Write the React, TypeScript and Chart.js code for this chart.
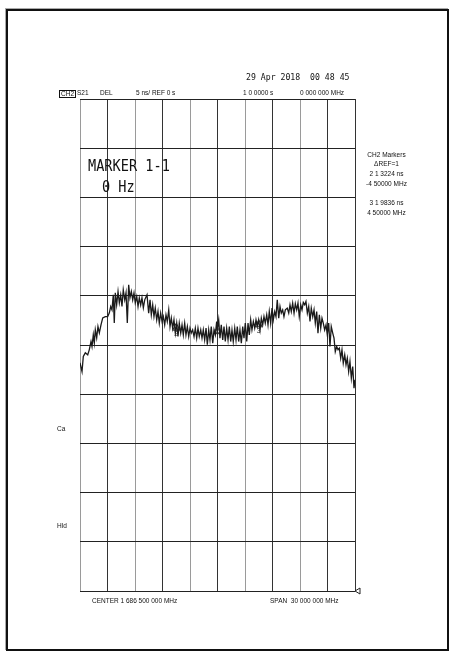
import React, { useEffect, useRef } from "react";
import { Chart, registerables } from "chart.js";

Chart.register(...registerables);

// Frequency (MHz) of each trace point
const freqMHz = [
  1671.5, 1671.72, 1671.86, 1672.08, 1672.34, 1672.51, 1672.7, 1672.81, 1672.95, 1673.06,
  1673.17, 1673.32, 1673.46, 1673.61, 1673.79, 1673.98, 1674.26, 1674.52, 1674.7, 1674.85,
  1674.99, 1675.13, 1675.24, 1675.35, 1675.5, 1675.65, 1675.79, 1675.94, 1676.08, 1676.22,
  1676.38, 1676.52, 1676.66, 1676.81, 1676.95, 1677.1, 1677.25, 1677.39, 1677.53, 1677.69,
  1677.83, 1677.97, 1678.12, 1678.26, 1678.41, 1678.56, 1678.81, 1678.99, 1679.14, 1679.28,
  1679.43, 1679.57, 1679.71, 1679.87, 1680.01, 1680.15, 1680.3, 1680.45, 1680.59, 1680.74,
  1680.88, 1681.02, 1681.18, 1681.32, 1681.46, 1681.61, 1681.75, 1681.9, 1682.05, 1682.19,
  1682.33, 1682.49, 1682.63, 1682.77, 1682.92, 1683.06, 1683.21, 1683.36, 1683.5, 1683.64,
  1683.79, 1683.94, 1684.08, 1684.23, 1684.37, 1684.51, 1684.67, 1684.81, 1684.95, 1685.1,
  1685.25, 1685.39, 1685.54, 1685.68, 1685.82, 1685.98, 1686.12, 1686.26, 1686.41, 1686.48,
  1686.63, 1686.77, 1686.91, 1687.07, 1687.21, 1687.35, 1687.5, 1687.65, 1687.79, 1687.94,
  1688.08, 1688.22, 1688.38, 1688.52, 1688.66, 1688.81, 1688.95, 1689.1, 1689.25, 1689.39,
  1689.53, 1689.69, 1689.83, 1689.97, 1690.12, 1690.26, 1690.41, 1690.56, 1690.7, 1690.84,
  1690.99, 1691.14, 1691.28, 1691.43, 1691.57, 1691.71, 1691.87, 1692.01, 1692.15, 1692.3,
  1692.45, 1692.59, 1692.74, 1692.88, 1693.02, 1693.18, 1693.32, 1693.46, 1693.61, 1693.75,
  1693.9, 1694.11, 1694.27, 1694.41, 1694.55, 1694.7, 1694.85, 1694.99, 1695.14, 1695.28,
  1695.42, 1695.58, 1695.72, 1695.86, 1696.01, 1696.15, 1696.3, 1696.45, 1696.59, 1696.73,
  1696.89, 1697.03, 1697.17, 1697.32, 1697.46, 1697.61, 1697.76, 1697.9, 1698.04, 1698.19,
  1698.34, 1698.48, 1698.63, 1698.77, 1698.91, 1699.07, 1699.21, 1699.35, 1699.5, 1699.65,
  1699.79, 1699.94, 1700.08, 1700.22, 1700.38, 1700.52, 1700.66, 1700.81, 1700.95, 1701.1,
  1701.25, 1701.39, 1701.5,
];

// Group delay (ns) of each trace point
const delayNs = [
  23.19, 22.3, 23.83, 24.2, 24.0, 24.51, 25.35, 24.84, 26.03, 25.22,
  26.54, 25.73, 26.88, 26.24, 27.05, 27.76, 27.89, 27.89, 28.27, 28.91,
  28.57, 30.1, 27.25, 30.3, 29.08, 30.44, 29.29, 30.1, 28.91, 30.61,
  29.59, 30.3, 27.25, 31.12, 29.8, 30.44, 29.59, 30.3, 29.29, 29.93,
  28.91, 29.8, 29.08, 29.8, 28.78, 29.59, 30.1, 28.24, 29.59, 28.07,
  29.08, 27.89, 28.75, 27.56, 28.4, 27.22, 28.24, 27.39, 27.89, 27.05,
  28.07, 27.39, 28.57, 26.88, 27.73, 26.71, 27.56, 26.21, 27.22, 25.86,
  27.22, 26.21, 27.05, 26.03, 27.22, 26.03, 26.88, 25.86, 26.71, 26.21,
  26.54, 25.86, 26.71, 25.7, 26.71, 25.86, 26.54, 25.7, 26.54, 25.52,
  26.71, 25.02, 26.54, 25.52, 26.88, 25.19, 26.54, 26.03, 27.39, 26.54,
  27.56, 25.7, 27.05, 25.52, 26.88, 25.35, 26.71, 25.52, 26.88, 25.35,
  26.54, 25.35, 26.71, 25.52, 26.88, 25.35, 26.54, 25.19, 26.88, 25.7,
  27.22, 25.35, 27.22, 26.03, 27.56, 26.54, 27.39, 26.71, 27.56, 26.88,
  27.56, 26.54, 27.73, 27.05, 27.89, 27.22, 28.07, 27.05, 28.4, 27.22,
  28.75, 27.56, 28.4, 27.89, 29.59, 27.73, 28.91, 28.24, 28.57, 27.89,
  28.57, 28.75, 28.24, 29.08, 28.4, 29.26, 28.24, 29.19, 28.57, 29.26,
  27.89, 29.08, 28.57, 29.32, 29.08, 29.42, 28.24, 28.91, 27.39, 28.75,
  27.89, 28.57, 27.22, 28.4, 26.21, 28.07, 26.71, 27.73, 27.22, 26.54,
  27.05, 26.03, 27.22, 24.84, 26.88, 26.21, 25.7, 24.33, 24.84, 24.51,
  24.68, 23.66, 24.51, 23.15, 24.0, 22.98, 23.66, 22.3, 23.32, 21.63,
  22.81, 20.61, 21.46,
];

// Markers
const markerIds = ["1", "2", "3"];
const markerFreqMHz = [1686.5, 1682.0, 1691.0];

// Axes (center 1686.5 MHz, span 30 MHz, 5 ns/div, ref 0 s at bottom)
const freqStart = 1671.5;
const freqStop = 1701.5;
const xDivisions = 10;
const delayMin = 0;
const delayMax = 50;
const nsPerDiv = 5;
const refValue = 0;

const headerTexts = ["S21", "DEL", "5 ns/ REF 0 s", "1 0 0000 s", "0 000 000 MHz"];
const dateText = "29 Apr 2018  00 48 45";
const markerBig = ["MARKER 1-1", "0 Hz"];
const markerPanel = ["CH2 Markers", "\u0394REF=1", "2 1 3224 ns", "-4 50000 MHz", "3 1 9836 ns", "4 50000 MHz"];
const footerTexts = ["CENTER 1 686 500 000 MHz", "SPAN  30 000 000 MHz"];

const markerPlugin = {
  id: "vnaMarkers",
  afterDatasetsDraw(chart: any) {
    const ctx = chart.ctx;
    const xs = chart.scales.x;
    const ys = chart.scales.y;
    ctx.save();
    ctx.strokeStyle = "#222";
    ctx.fillStyle = "#222";
    ctx.lineWidth = 1;
    ctx.font = "7px 'Liberation Sans'";
    ctx.textAlign = "center";
    ctx.textBaseline = "middle";
    markerIds.forEach((id, i) => {
      const f = markerFreqMHz[i];
      let best = 0;
      freqMHz.forEach((v, k) => {
        if (Math.abs(v - f) < Math.abs(freqMHz[best] - f)) best = k;
      });
      const px = xs.getPixelForValue(f);
      const py = ys.getPixelForValue(delayNs[best]);
      ctx.beginPath();
      if (i === 0) {
        ctx.moveTo(px, py + 5);
        ctx.lineTo(px - 3, py);
        ctx.lineTo(px + 3, py);
        ctx.closePath();
        ctx.stroke();
        ctx.fillText(id, px, py - 3);
      } else {
        ctx.moveTo(px, py);
        ctx.lineTo(px - 3.5, py + 7);
        ctx.lineTo(px + 3.5, py + 7);
        ctx.closePath();
        ctx.stroke();
        ctx.fillText(id, px, py + 11);
      }
    });
    // reference position indicator
    const rx = chart.chartArea.right;
    const ry = ys.getPixelForValue(refValue);
    ctx.beginPath();
    ctx.moveTo(rx, ry);
    ctx.lineTo(rx + 5, ry - 3);
    ctx.lineTo(rx + 5, ry + 3);
    ctx.closePath();
    ctx.stroke();
    ctx.restore();
  },
};

function T(props: { x: number; y: number; size: number; text: string; font?: string; sy?: number; style?: any }) {
  const { x, y, size, text, font, sy, style } = props;
  return (
    <div
      style={{
        position: "absolute",
        left: x,
        top: y - size / 2,
        fontSize: size,
        lineHeight: 1,
        fontFamily: font || "'Liberation Sans', Arial, sans-serif",
        whiteSpace: "pre",
        color: "#111",
        transform: sy ? `scaleY(${sy})` : undefined,
        transformOrigin: "left center",
        ...style,
      }}
    >
      {text}
    </div>
  );
}

export default function App() {
  const ref = useRef<HTMLCanvasElement | null>(null);
  useEffect(() => {
    if (!ref.current) return;
    const step = (freqStop - freqStart) / xDivisions;
    const chart = new Chart(ref.current, {
      type: "line",
      data: {
        datasets: [
          {
            data: freqMHz.map((f, i) => ({ x: f, y: delayNs[i] })),
            borderColor: "#1a1a1a",
            borderWidth: 1.3,
            pointRadius: 0,
            tension: 0,
            fill: false,
          },
        ],
      },
      options: {
        animation: false,
        responsive: false,
        maintainAspectRatio: false,
        layout: { padding: { left: 80, top: 99, right: 102, bottom: 69 } },
        plugins: { legend: { display: false }, tooltip: { enabled: false } },
        scales: {
          x: {
            type: "linear",
            min: freqStart,
            max: freqStop,
            afterBuildTicks: (axis: any) => {
              const t = [];
              for (let i = 0; i <= xDivisions; i++) t.push({ value: freqStart + i * step });
              axis.ticks = t;
            },
            ticks: { display: false },
            border: { display: false },
            grid: {
              drawTicks: false,
              lineWidth: 1,
              color: (c: any) => (c.index % 2 === 0 && c.index !== xDivisions ? "#9a9a9a" : "#333"),
            },
          },
          y: {
            type: "linear",
            min: delayMin,
            max: delayMax,
            ticks: { display: false, stepSize: nsPerDiv },
            border: { display: false },
            grid: { drawTicks: false, lineWidth: 1, color: "#222" },
          },
        },
      },
      plugins: [markerPlugin],
    });
    return () => chart.destroy();
  }, []);

  const mono = "'DejaVu Sans Mono', monospace";
  return (
    <div style={{ position: "absolute", left: 0, top: 0, width: 457, height: 660, background: "#fff", overflow: "hidden" }}>
      <div
        style={{
          position: "absolute",
          left: 6,
          top: 9,
          width: 443,
          height: 642,
          border: "2px solid #111",
          boxShadow: "-1px -1px 0 #aaa",
          boxSizing: "border-box",
        }}
      />
      <canvas ref={ref} width={457} height={660} style={{ position: "absolute", left: 0, top: 0, width: 457, height: 660 }} />
      <T x={246} y={77} size={8.2} text={dateText} font={mono} sy={1.15} />
      <T x={59} y={93} size={6.5} text="CH2" style={{ border: "1px solid #111", padding: "0 1px" }} />
      <T x={77} y={93} size={6.5} text={headerTexts[0]} />
      <T x={100} y={93} size={6.5} text={headerTexts[1]} />
      <T x={136} y={93} size={6.5} text={headerTexts[2]} />
      <T x={243} y={93} size={6.5} text={headerTexts[3]} />
      <T x={300} y={93} size={6.5} text={headerTexts[4]} />
      <T x={88} y={166} size={13.6} text={markerBig[0]} font={mono} sy={1.2} />
      <T x={102} y={187} size={13.6} text={markerBig[1]} font={mono} sy={1.2} />
      {markerPanel.map((s, i) => (
        <div
          key={i}
          style={{
            position: "absolute",
            left: 346,
            width: 81,
            textAlign: "center",
            top: [155.5, 164.5, 174, 184.5, 203.5, 213][i] - 3.5,
            fontSize: 6.5,
            lineHeight: 1,
            fontFamily: "'Liberation Sans', Arial, sans-serif",
            whiteSpace: "pre",
            color: "#111",
          }}
        >
          {s}
        </div>
      ))}
      <T x={57} y={429} size={6.5} text="Ca" />
      <T x={57} y={526} size={6.5} text="Hld" />
      <T x={92} y={601} size={6.5} text={footerTexts[0]} />
      <T x={270} y={601} size={6.5} text={footerTexts[1]} />
    </div>
  );
}
